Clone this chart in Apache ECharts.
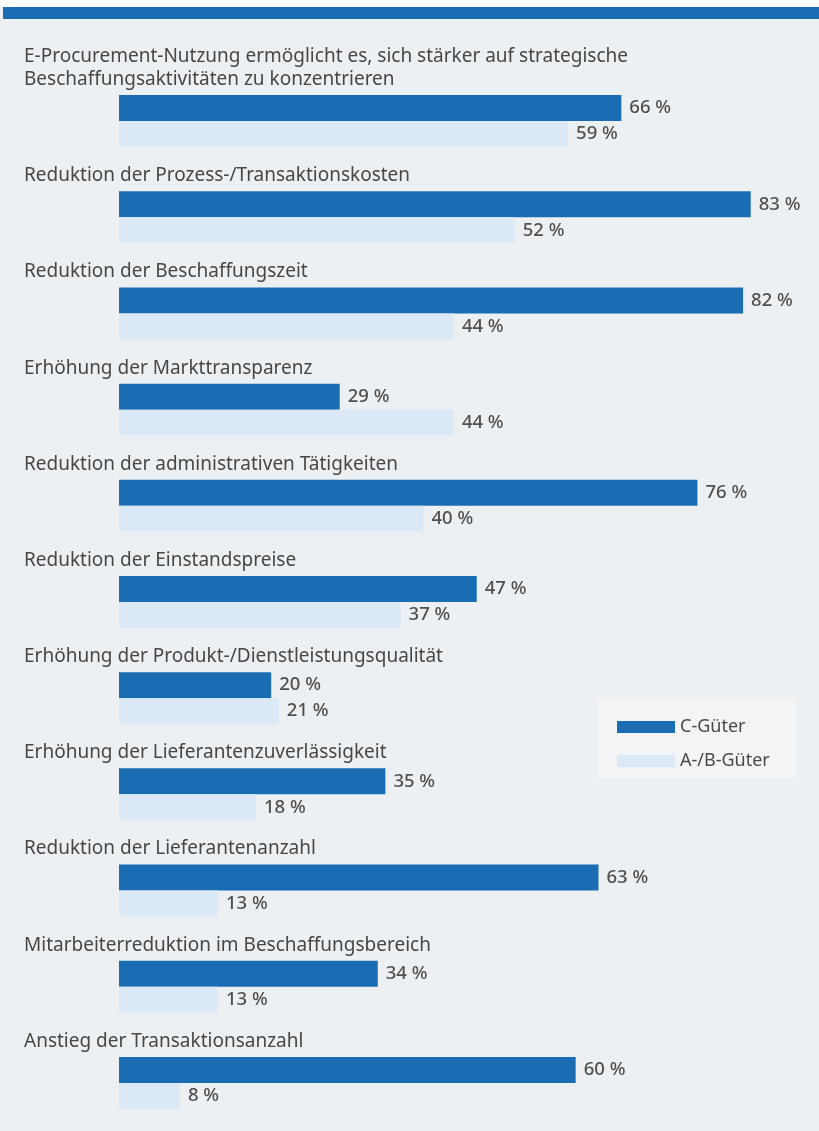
<!DOCTYPE html>
<html lang="de">
<head>
  <meta charset="UTF-8">
  <title>E-Procurement Nutzen</title>
  <script src="https://cdn.jsdelivr.net/npm/echarts@6/dist/echarts.min.js"></script>
  <style>
    html, body { margin: 0; padding: 0; background: #ffffff; }
    #main { width: 819px; height: 1131px; }
  </style>
</head>
<body>
  <div id="main"></div>
  <script>
    // Kategorien (von oben nach unten)
    var categories = [
      'E-Procurement-Nutzung ermöglicht es, sich stärker auf strategische\nBeschaffungsaktivitäten zu konzentrieren',
      'Reduktion der Prozess-/Transaktionskosten',
      'Reduktion der Beschaffungszeit',
      'Erhöhung der Markttransparenz',
      'Reduktion der administrativen Tätigkeiten',
      'Reduktion der Einstandspreise',
      'Erhöhung der Produkt-/Dienstleistungsqualität',
      'Erhöhung der Lieferantenzuverlässigkeit',
      'Reduktion der Lieferantenanzahl',
      'Mitarbeiterreduktion im Beschaffungsbereich',
      'Anstieg der Transaktionsanzahl'
    ];
    var cGueter = [66, 83, 82, 29, 76, 47, 20, 35, 63, 34, 60];
    var abGueter = [59, 52, 44, 44, 40, 37, 21, 18, 13, 13, 8];
    var seriesNames = ['C-Güter', 'A-/B-Güter'];

    var FONT = 'Noto Sans';
    var myChart = echarts.init(document.getElementById('main'));

    var valueLabel = {
      show: true,
      position: 'right',
      distance: 8,
      formatter: '{c} %',
      color: '#505050',
      fontFamily: FONT,
      fontSize: 18.5,
      fontWeight: 500
    };

    var option = {
      backgroundColor: '#edf0f3',
      animation: false,
      graphic: [{
        type: 'rect',
        shape: { x: 0, y: 0, width: 819, height: 7 },
        style: { fill: '#ffffff' }
      }, {
        type: 'rect',
        shape: { x: 3, y: 7, width: 816, height: 12 },
        style: { fill: '#1a6db3' }
      }, {
        type: 'rect',
        shape: { x: 597, y: 698, width: 199, height: 81 },
        style: { fill: '#f2f4f6' }
      }],
      legend: {
        data: seriesNames,
        orient: 'vertical',
        left: 612,
        top: 713,
        itemWidth: 58,
        itemHeight: 12,
        itemGap: 16,
        icon: 'rect',
        textStyle: { color: '#4a4a4a', fontFamily: FONT, fontSize: 18 }
      },
      grid: { left: 119, right: 15, top: 73, bottom: 0 },
      xAxis: {
        type: 'value',
        min: 0,
        max: 90,
        show: false
      },
      yAxis: {
        type: 'category',
        data: categories,
        inverse: true,
        axisLine: { show: false },
        axisTick: { show: false },
        splitLine: { show: false },
        axisLabel: {
          align: 'left',
          verticalAlign: 'bottom',
          margin: 95,
          padding: [0, 0, 30, 0],
          lineHeight: 23,
          color: '#474747',
          fontFamily: FONT,
          fontSize: 19
        }
      },
      series: [{
        name: seriesNames[0],
        type: 'bar',
        data: cGueter,
        barWidth: 26,
        barGap: '0%',
        itemStyle: { color: '#1a6db3' },
        label: valueLabel
      }, {
        name: seriesNames[1],
        type: 'bar',
        data: abGueter,
        barWidth: 26,
        barGap: '0%',
        itemStyle: { color: '#dbe9f7' },
        label: valueLabel
      }]
    };
    myChart.setOption(option);
  </script>
</body>
</html>
